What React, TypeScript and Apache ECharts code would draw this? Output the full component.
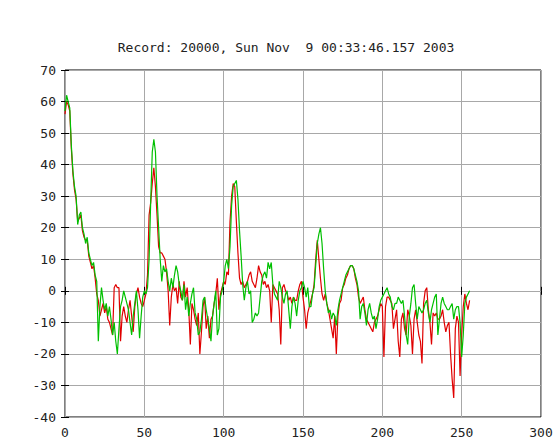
import React, { useEffect, useRef } from "react";
import * as echarts from "echarts";

const titleText = "Record: 20000, Sun Nov  9 00:33:46.157 2003";

const xTicks = [0, 50, 100, 150, 200, 250, 300];
const yTicks = [-40, -30, -20, -10, 0, 10, 20, 30, 40, 50, 60, 70];

// green trace, samples 0..255
const greenValues = [
  57, 62, 60, 58, 46, 38, 33, 30, 21, 24,
  25, 20, 18, 15, 17, 12, 10, 8, 9, 5,
  3, -16, -5, 1, -3, -6, -4, -8, -5, -9,
  -14, -10, -16, -20, -12, -5, -3, 0, -2, -4,
  -6, -10, -14, -8, -4, 0, -6, -15, -8, -2,
  0, -1, 1, 10, 28, 44, 48, 44, 30, 20,
  10, 3, 8, 6, 7, 3, 0, 4, 1, 5,
  8, 6, 2, 0, -3, 2, -6, -2, -8, -4,
  -1, 1, -7, -9, -14, -13, -9, -3, -2, -6,
  -9, -12, -16, -8, -4, 0, -14, -12, -2, 0,
  3, 8, 10, 7, 14, 27, 33, 34, 35, 29,
  19, 11, 2, -3, 1, 3, -1, 0, -10, -9,
  -7, -8, -7, -2, 3, 5, 6, 4, 9, 7,
  9, 2, -1, -2, -3, 3, 1, -2, -4, -1,
  0, -6, -12, -5, -2, -4, -8, -3, 0, 1,
  3, 1, -2, 1, -5, -5, -1, 1, 8, 15,
  18, 20, 15, 7, 0, -4, -7, -6, -9, -7,
  -8, -11, -6, -3, -1, 1, 3, 5, 6, 7,
  8, 8, 7, 5, 3, 0, -9, -5, -4, -7,
  -11, -6, -4, -7, -9, -8, -12, -9, -5, -3,
  -2, -1, 0, 1, -1, -2, -5, -6, -4, -4,
  -2, -3, -4, -3, -8, -14, -17, -8, -4, 1,
  2, -4, -9, -5, -6, -7, -6, -4, -3, -7,
  -10, -6, -4, -2, -1, -14, -9, -4, -2, -4,
  -5, -6, -6, -5, -4, -9, -6, -5, -5, -10,
  -21, -14, -4, -2, -1, 0,
];

// red trace, samples 0..255
const redValues = [
  56, 60, 59, 57, 45, 37, 32, 29, 22, 23,
  24, 19, 17, 16, 16, 11, 9, 7, 8, 4,
  -1, -3, -8, -6, -4, -7, -5, -9, -10, -12,
  -14, 1, 2, 1, 1, -16, -8, -5, -8, -10,
  -6, -3, -8, -13, -5, -1, 1, -2, -4, -5,
  -3, -1, 5, 24, 28, 34, 39, 33, 24, 14,
  12, 12, 11, 10, 6, 0, -11, -2, 2, 0,
  1, -4, 3, -2, -3, 3, -2, 1, -6, -17,
  -4, -6, -9, -11, -7, -20, -13, -5, -2, -12,
  -8, -15, -9, -8, -4, -1, 4, -6, -1, 1,
  3, 2, 6, 5, 22, 30, 34, 33, 22, 12,
  4, 2, 3, 1, 2, 3, 5, 6, 3, 2,
  1, 4, 8, 6, 5, 2, 3, 1, 2, 0,
  -10, 2, 1, 0, -1, -6, -17, 1, 2, 0,
  -1, -3, -2, -4, -2, -3, -3, 0, 2, 3,
  -2, -6, -12, -7, -5, -3, -1, 2, 10, 16,
  10, 4, -1, -3, -1, -4, -6, -9, -12, -15,
  -8, -20, -8, -4, -3, 1, 2, 4, 5, 7,
  8, 8, 7, 4, 2, -2, -4, -3, -2, -6,
  -9, -10, -11, -12, -13, -10, -9, -8, -6, -4,
  -5, -21, -5, -2, -2, -3, -4, -12, -9, -6,
  -16, -21, -9, -7, -12, -14, -6, -8, -11, -20,
  -9, -6, -10, -14, -16, -23, -4, 0, 1, -6,
  -10, -17, -7, -8, -7, -9, -9, -8, -6, -10,
  -13, -11, -10, -20, -28, -34, -12, -8, -10, -27,
  -14, -5, -1, -4, -6, -3,
];

const FONT = "'DejaVu Sans Mono', 'Liberation Mono', monospace";

export default function App() {
  const ref = useRef<HTMLDivElement>(null);
  useEffect(() => {
    if (!ref.current) return;
    const chart = echarts.init(ref.current, undefined, { renderer: "svg" });
    const toPairs = (arr: number[]) => arr.map((v, i) => [i, v]);
    const xMin = xTicks[0];
    const xMax = xTicks[xTicks.length - 1];
    const xInt = xTicks[1] - xTicks[0];
    const yMin = yTicks[0];
    const yMax = yTicks[yTicks.length - 1];
    const yInt = yTicks[1] - yTicks[0];
    const labelStyle = { color: "#222", fontFamily: FONT, fontSize: 13 };
    chart.setOption({
      animation: false,
      backgroundColor: "#ffffff",
      title: {
        text: titleText,
        left: 286,
        textAlign: "center",
        top: 41,
        textStyle: { ...labelStyle, fontWeight: "normal", fontSize: 13 },
        padding: 0,
      },
      grid: {
        left: 65,
        right: 19,
        top: 70,
        bottom: 24,
        show: true,
        borderColor: "#000",
        borderWidth: 1,
        backgroundColor: "transparent",
      },
      xAxis: [
        {
          type: "value",
          min: xMin,
          max: xMax,
          interval: xInt,
          axisLine: { show: false },
          axisTick: { show: true, inside: true, length: 4, lineStyle: { color: "#000" } },
          axisLabel: { ...labelStyle, margin: 9 },
          splitLine: { show: true, lineStyle: { color: "#a8a8a8", width: 1 } },
        },
        {
          type: "value",
          position: "top",
          min: xMin,
          max: xMax,
          interval: xInt,
          axisLine: { show: false },
          axisTick: { show: true, inside: true, length: 4, lineStyle: { color: "#000" } },
          axisLabel: { show: false },
          splitLine: { show: false },
        },
      ],
      yAxis: [
        {
          type: "value",
          min: yMin,
          max: yMax,
          interval: yInt,
          axisLine: { show: false },
          axisTick: { show: true, inside: true, length: 4, lineStyle: { color: "#000" } },
          axisLabel: { ...labelStyle, margin: 9 },
          splitLine: { show: true, lineStyle: { color: "#a8a8a8", width: 1 } },
        },
        {
          type: "value",
          position: "right",
          min: yMin,
          max: yMax,
          interval: yInt,
          axisLine: { show: false },
          axisTick: { show: true, inside: true, length: 4, lineStyle: { color: "#000" } },
          axisLabel: { show: false },
          splitLine: { show: false },
        },
      ],
      series: [
        {
          name: "red",
          type: "line",
          data: toPairs(redValues),
          symbol: "none",
          lineStyle: { color: "#e00000", width: 1.2 },
          itemStyle: { color: "#e00000" },
          z: 2,
        },
        {
          name: "green",
          type: "line",
          data: toPairs(greenValues),
          symbol: "none",
          lineStyle: { color: "#00c000", width: 1.2 },
          itemStyle: { color: "#00c000" },
          z: 3,
        },
      ],
    });
    return () => chart.dispose();
  }, []);
  return <div ref={ref} style={{ width: 560, height: 441, position: "absolute", left: 0, top: 0 }} />;
}
